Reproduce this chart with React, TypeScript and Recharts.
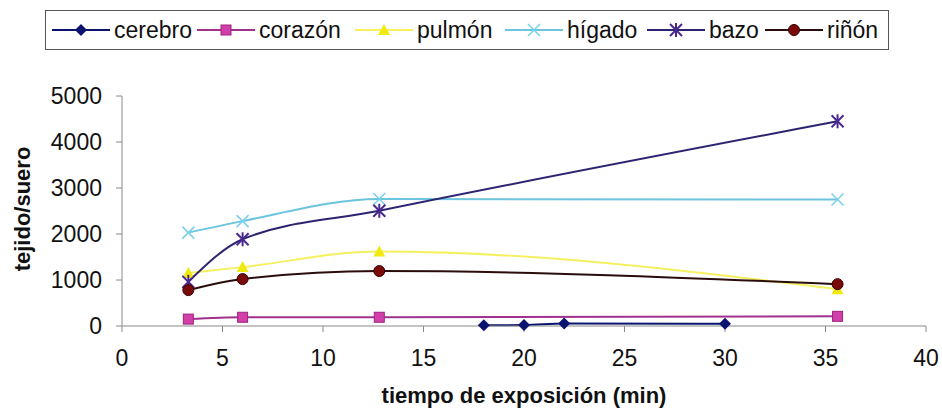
import React from 'react';
import { LineChart, Line, XAxis, YAxis } from 'recharts';

// tiempo (min) de cada muestra
const tiempoOrganos = [3.3, 6, 12.8, 35.6];
const tiempoCerebro = [18, 20, 22, 30];

// cociente tejido/suero
const cerebro = [15, 20, 55, 50];
const corazon = [150, 190, 190, 210];
const pulmon = [1150, 1280, 1620, 800];
const higado = [2030, 2280, 2760, 2750];
const bazo = [960, 1885, 2505, 4450];
const rinon = [780, 1020, 1195, 910];

const xTicks = [0, 5, 10, 15, 20, 25, 30, 35, 40];
const yTicks = [0, 1000, 2000, 3000, 4000, 5000];

const toPoints = (xs: number[], ys: number[]) => xs.map((x, i) => ({ x, y: ys[i] }));

type Shape = 'diamond' | 'square' | 'triangle' | 'cross' | 'star' | 'circle';

const Marker = ({ shape, cx, cy, color }: { shape: Shape; cx: number; cy: number; color: string }) => {
  switch (shape) {
    case 'diamond':
      return <polygon points={`${cx},${cy - 6} ${cx + 6},${cy} ${cx},${cy + 6} ${cx - 6},${cy}`} fill={color} />;
    case 'square':
      return <rect x={cx - 5} y={cy - 5} width={10} height={10} fill={color} stroke="#a02080" strokeWidth={1} />;
    case 'triangle':
      return <polygon points={`${cx},${cy - 6} ${cx + 6},${cy + 5} ${cx - 6},${cy + 5}`} fill={color} />;
    case 'cross':
      return (
        <g stroke={color} strokeWidth={1.5}>
          <line x1={cx - 6} y1={cy - 6} x2={cx + 6} y2={cy + 6} />
          <line x1={cx - 6} y1={cy + 6} x2={cx + 6} y2={cy - 6} />
        </g>
      );
    case 'star':
      return (
        <g stroke={color} strokeWidth={2}>
          <line x1={cx - 6} y1={cy - 6} x2={cx + 6} y2={cy + 6} />
          <line x1={cx - 6} y1={cy + 6} x2={cx + 6} y2={cy - 6} />
          <line x1={cx} y1={cy - 7} x2={cx} y2={cy + 7} />
        </g>
      );
    default:
      return <circle cx={cx} cy={cy} r={5.5} fill={color} stroke="#3a0000" strokeWidth={1} />;
  }
};

const series = [
  { name: 'cerebro', data: toPoints(tiempoCerebro, cerebro), line: '#0a1470', marker: '#0a1470', shape: 'diamond' as Shape },
  { name: 'corazón', data: toPoints(tiempoOrganos, corazon), line: '#a0328c', marker: '#d040a8', shape: 'square' as Shape },
  { name: 'pulmón', data: toPoints(tiempoOrganos, pulmon), line: '#f4f060', marker: '#f0ea10', shape: 'triangle' as Shape },
  { name: 'hígado', data: toPoints(tiempoOrganos, higado), line: '#6cc4de', marker: '#78d0ec', shape: 'cross' as Shape },
  { name: 'bazo', data: toPoints(tiempoOrganos, bazo), line: '#2c2470', marker: '#4a2890', shape: 'star' as Shape },
  { name: 'riñón', data: toPoints(tiempoOrganos, rinon), line: '#2a0c0c', marker: '#7a0a0a', shape: 'circle' as Shape },
];

// left edge of each legend entry
const legendLeft = [52, 197, 355, 505, 647, 765];

const font = '"Liberation Sans", Arial, sans-serif';

const LegendBox = () => (
  <div
    style={{
      position: 'absolute',
      left: 45,
      top: 10,
      width: 844,
      height: 40,
      border: '1px solid #555',
      boxSizing: 'border-box',
      fontFamily: font,
      fontSize: 23,
      color: '#111',
    }}
  >
    {series.map((s, i) => (
      <div
        key={s.name}
        style={{ position: 'absolute', left: legendLeft[i] - 46, top: 6, display: 'flex', alignItems: 'center', lineHeight: '26px' }}
      >
        <svg width={58} height={16}>
          <line x1={0} y1={8} x2={58} y2={8} stroke={s.line} strokeWidth={2} />
          <Marker shape={s.shape} cx={29} cy={8} color={s.marker} />
        </svg>
        <span style={{ marginLeft: 4 }}>{s.name}</span>
      </div>
    ))}
  </div>
);

export default function App() {
  return (
    <div style={{ position: 'absolute', left: 0, top: 0, width: 942, height: 414, background: '#fff' }}>
      <LegendBox />
      <LineChart width={942} height={414} margin={{ top: 96, right: 16, bottom: 8, left: 62 }}>
        <XAxis
          type="number"
          dataKey="x"
          domain={[0, 40]}
          ticks={xTicks}
          height={80}
          stroke="#888"
          tickSize={6}
          tickMargin={18}
          tick={{ fill: '#111', fontSize: 23, fontFamily: font }}
          label={{
            value: 'tiempo de exposición (min)',
            position: 'insideBottom',
            offset: 3,
            style: { fill: '#111', fontSize: 22, fontWeight: 'bold', fontFamily: font },
          }}
        />
        <YAxis
          type="number"
          dataKey="y"
          domain={[0, 5000]}
          ticks={yTicks}
          width={60}
          stroke="#888"
          tickSize={6}
          tickMargin={14}
          tick={{ fill: '#111', fontSize: 23, fontFamily: font }}
          label={() => (
            <text
              x={22}
              y={209}
              transform="rotate(-90 22 209)"
              textAnchor="middle"
              dominantBaseline="central"
              style={{ fill: '#111', fontSize: 22, fontWeight: 'bold', fontFamily: font }}
            >
              tejido/suero
            </text>
          )}
        />
        {series.map(s => (
          <Line
            key={s.name}
            data={s.data}
            dataKey="y"
            name={s.name}
            type="monotone"
            stroke={s.line}
            strokeWidth={2}
            isAnimationActive={false}
            dot={(p: any) => <Marker key={`${s.name}-${p.index}`} shape={s.shape} cx={p.cx} cy={p.cy} color={s.marker} />}
            activeDot={false}
          />
        ))}
      </LineChart>
    </div>
  );
}
